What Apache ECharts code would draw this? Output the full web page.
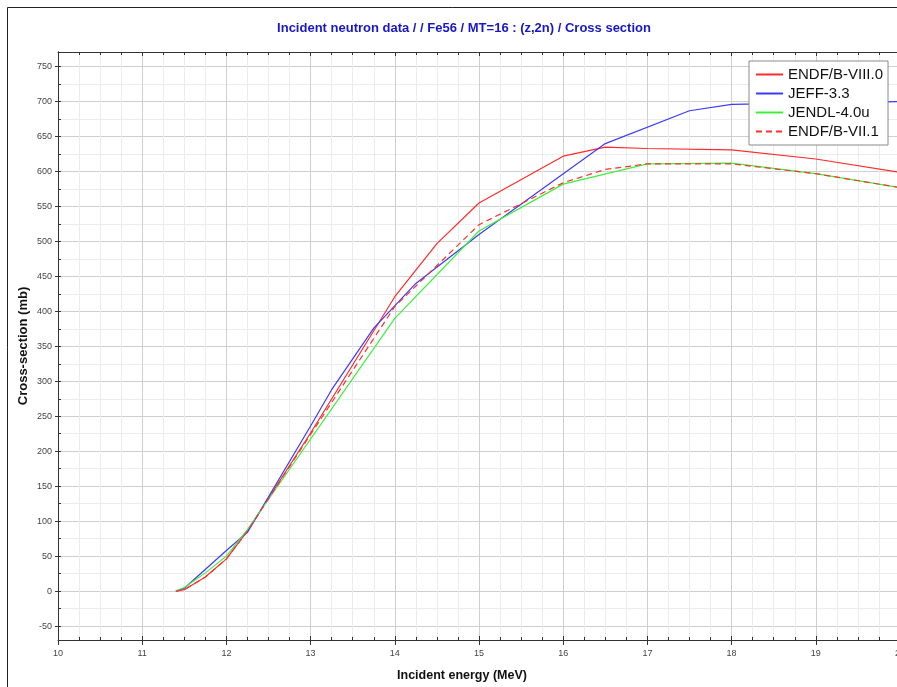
<!DOCTYPE html>
<html>
<head>
<meta charset="utf-8">
<script src="https://cdn.jsdelivr.net/npm/echarts@6/dist/echarts.min.js"></script>
<style>
html,body{margin:0;padding:0;background:#fff;}
#chart{width:897px;height:687px;}
</style>
</head>
<body>
<div id="chart"></div>
<script>
// ---- data (incident energy in MeV, cross-section in mb) ----
const seriesNames = ['ENDF/B-VIII.0', 'JEFF-3.3', 'JENDL-4.0u', 'ENDF/B-VII.1'];

const endf80E = [11.4, 11.5, 11.75, 12, 12.25, 13, 14, 14.5, 15, 16, 16.5, 17, 18, 19, 20];
const endf80V = [0, 2, 20, 46, 86, 226, 421, 497, 555, 622, 635, 633, 631, 618, 599];

const jeffE = [11.4, 11.5, 12, 12.25, 13, 13.25, 13.75, 14.25, 15, 16.5, 17.5, 18, 20];
const jeffV = [0, 4, 58, 84, 236, 288, 376, 440, 510, 640, 687, 696, 700];

const jendlE = [11.4, 11.5, 11.75, 12, 12.25, 14, 15, 16, 17, 18, 19, 20];
const jendlV = [0, 5, 26, 50, 88, 390, 515, 582, 611, 612, 597, 577];

const endf71E = [11.4, 11.5, 11.75, 12, 12.25, 13, 14, 15, 16, 16.5, 17, 18, 19, 20];
const endf71V = [0, 2, 20, 46, 86, 224, 407, 524, 584, 603, 611, 611, 597, 577];

const xTickMin = 10, xTickMax = 20;
const yMin = -70, yMax = 771;

const titleText = 'Incident neutron data / / Fe56 / MT=16 : (z,2n) / Cross section';
const xName = 'Incident energy (MeV)';
const yName = 'Cross-section (mb)';

function pairs(xs, ys) { return xs.map((x, i) => [x, ys[i]]); }

const chart = echarts.init(document.getElementById('chart'), null, {renderer: 'canvas'});
const axisColor = '#333';
const majorGrid = '#cfcfcf';
const minorGrid = '#ececec';
const font = 'Liberation Sans, Arial, sans-serif';

const lineBase = (name, data, color, type) => ({
  name: name, type: 'line', data: data, xAxisIndex: 0, yAxisIndex: 1,
  showSymbol: false, symbol: 'none', animation: false,
  lineStyle: {color: color, width: 1.2, type: type || 'solid'},
  itemStyle: {color: color}
});

chart.setOption({
  animation: false,
  backgroundColor: '#fff',
  grid: {left: 58, top: 52, width: 842, bottom: 47, containLabel: false, outerBoundsMode: 'none'},
  legend: {
    orient: 'vertical', left: 749, top: 61,
    data: seriesNames,
    itemWidth: 27, itemHeight: 14, itemGap: 4,
    padding: [6, 5, 6, 6],
    backgroundColor: '#fff', borderColor: '#8a8a8a', borderWidth: 1,
    itemStyle: {opacity: 0},
    lineStyle: {width: 2},
    textStyle: {fontSize: 15, fontFamily: font, color: '#111'}
  },
  xAxis: [
    {
      type: 'value', min: xTickMin, max: xTickMax, interval: 1, position: 'bottom',
      axisLine: {show: true, onZero: false, lineStyle: {color: axisColor, width: 1}},
      axisTick: {show: true, inside: true, length: 4, lineStyle: {color: axisColor}},
      minorTick: {show: true, splitNumber: 4, length: 3, lineStyle: {color: axisColor}},
      splitLine: {show: true, lineStyle: {color: majorGrid, width: 1}},
      minorSplitLine: {show: true, lineStyle: {color: minorGrid, width: 1}},
      axisLabel: {fontSize: 9, color: '#444', margin: 9, fontFamily: font}
    },
    {
      type: 'value', min: xTickMin, max: xTickMax, interval: 1, position: 'bottom',
      axisLine: {show: false, onZero: false},
      axisTick: {show: true, inside: false, length: 5, lineStyle: {color: axisColor}},
      axisLabel: {show: false}, splitLine: {show: false}
    },
    {
      type: 'value', min: xTickMin, max: xTickMax, interval: 1, position: 'top',
      axisLine: {show: true, onZero: false, lineStyle: {color: axisColor, width: 1}},
      axisTick: {show: true, inside: true, length: 4, lineStyle: {color: axisColor}},
      minorTick: {show: true, splitNumber: 4, length: 3, lineStyle: {color: axisColor}},
      axisLabel: {show: false}, splitLine: {show: false}
    }
  ],
  yAxis: [
    {
      type: 'value', position: 'left', min: yMin, max: yMax, minInterval: 25, maxInterval: 25, splitNumber: 34,
      axisLine: {show: true, onZero: false, lineStyle: {color: axisColor, width: 1}},
      axisTick: {show: true, inside: true, length: 3, lineStyle: {color: axisColor}},
      axisLabel: {show: false},
      splitLine: {show: true, lineStyle: {color: minorGrid, width: 1}}
    },
    {
      type: 'value', position: 'left', min: yMin, max: yMax, minInterval: 50, maxInterval: 50, splitNumber: 17,
      axisLine: {show: true, onZero: false, lineStyle: {color: axisColor, width: 1}},
      axisTick: {show: true, inside: false, length: 3, lineStyle: {color: axisColor}},
      axisLabel: {fontSize: 9, color: '#444', margin: 6, fontFamily: font, showMinLabel: false, showMaxLabel: false},
      splitLine: {show: true, lineStyle: {color: majorGrid, width: 1}}
    }
  ],
  graphic: [
    {type: 'rect', shape: {x: 7.5, y: 7.5, width: 1000, height: 1000}, style: {fill: 'none', stroke: '#222', lineWidth: 1}, z: 100, silent: true},
    {type: 'text', x: 464, y: 28, style: {text: titleText, textAlign: 'center', textVerticalAlign: 'middle', font: 'bold 13px ' + font, fill: '#1717c9'}, z: 100},
    {type: 'text', x: 462, y: 676, style: {text: xName, textAlign: 'center', textVerticalAlign: 'middle', font: 'bold 12.5px ' + font, fill: '#111'}, z: 100},
    {type: 'text', x: 23, y: 346, rotation: Math.PI / 2, style: {text: yName, textAlign: 'center', textVerticalAlign: 'middle', font: 'bold 13px ' + font, fill: '#111'}, z: 100}
  ],
  series: [
    lineBase(seriesNames[0], pairs(endf80E, endf80V), '#ff2b2b'),
    lineBase(seriesNames[1], pairs(jeffE, jeffV), '#3b3bff'),
    lineBase(seriesNames[2], pairs(jendlE, jendlV), '#3cf03c'),
    lineBase(seriesNames[3], pairs(endf71E, endf71V), '#ff3030', [6, 4])
  ]
});
</script>
</body>
</html>
